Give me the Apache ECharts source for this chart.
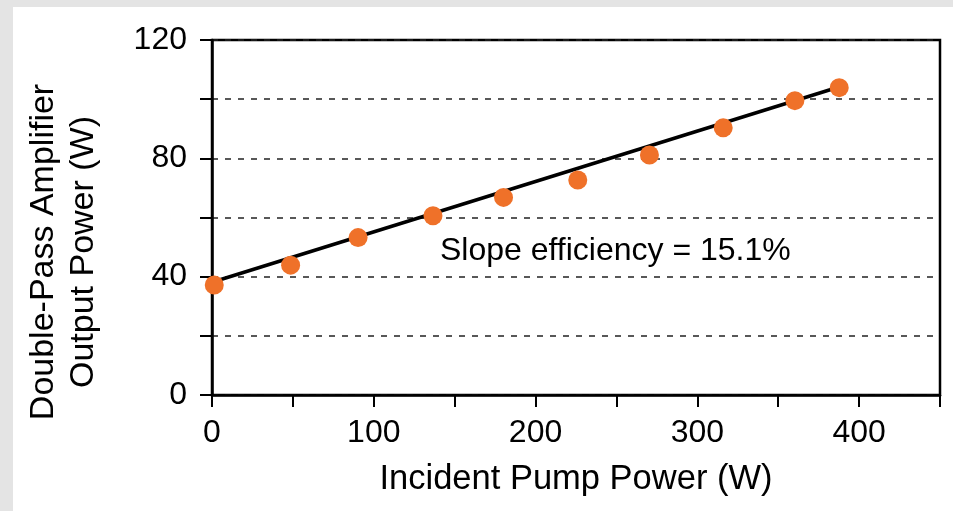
<!DOCTYPE html>
<html>
<head>
<meta charset="utf-8">
<script src="https://cdn.jsdelivr.net/npm/echarts@6/dist/echarts.min.js"></script>
<style>
  html, body { margin: 0; padding: 0; background: #e4e4e4; }
  #chart { width: 953px; height: 511px; }
</style>
</head>
<body>
<div id="chart"></div>
<script>
// measured points: incident pump power (W) vs output power (W)
var pumpPower = [1.4, 48.6, 90.3, 136.6, 180.2, 226.1, 270.4, 316.0, 360.3, 387.7];
var outputPower = [37.2, 43.9, 53.2, 60.6, 66.8, 72.7, 81.1, 90.3, 99.5, 103.9];

// linear fit end points
var fitX = [0.5, 388];
var fitY = [38.2, 104.2];

var xTickLabels = [0, 100, 200, 300, 400];
var yTickLabels = [0, 40, 80, 120];

var annotation = 'Slope efficiency = 15.1%';

(function () {
  'use strict';

  var FONT = '"Liberation Sans", Arial, Helvetica, sans-serif';
  var ORANGE = '#ef7129';
  var INK = '#000';

  var chart = echarts.init(document.getElementById('chart'), null, { renderer: 'canvas' });

  function zip(a, b) {
    return a.map(function (v, i) { return [v, b[i]]; });
  }

  // only a few ticks get a label
  function onlyListed(list) {
    return function (v) { return list.indexOf(v) !== -1 ? String(v) : ''; };
  }

  var option = {
    animation: false,
    backgroundColor: 'transparent',
    textStyle: { fontFamily: FONT },
    grid: {
      left: 212, top: 40, right: 13, bottom: 116,
      show: true, borderColor: INK, borderWidth: 2.5, backgroundColor: 'transparent'
    },
    graphic: [
      // white panel on the grey page
      { type: 'rect', z: -10, silent: true, shape: { x: 13, y: 7, width: 940, height: 504 }, style: { fill: '#fff' } },
      {
        type: 'text', x: 440, y: 251, z: 10,
        style: { text: annotation, fontFamily: FONT, fontSize: 32, fill: INK, textAlign: 'left', textVerticalAlign: 'middle' }
      },
      {
        type: 'text', x: 64, y: 252, rotation: Math.PI / 2, z: 10,
        style: {
          text: 'Double-Pass Amplifier\nOutput Power (W)',
          fontFamily: FONT, fontSize: 34, lineHeight: 40, fill: INK,
          textAlign: 'center', textVerticalAlign: 'middle'
        }
      }
    ],
    xAxis: {
      type: 'value', min: 0, max: 450, interval: 50,
      name: 'Incident Pump Power (W)', nameLocation: 'middle', nameGap: 67,
      nameTextStyle: { color: INK, fontSize: 34.5, fontFamily: FONT },
      axisLine: { show: true, lineStyle: { color: INK, width: 2.5 } },
      axisTick: { show: true, inside: false, length: 12, lineStyle: { color: INK, width: 2 } },
      axisLabel: { color: INK, fontSize: 32, fontFamily: FONT, margin: 22, formatter: onlyListed(xTickLabels) },
      splitLine: { show: false }
    },
    yAxis: {
      type: 'value', min: 0, max: 120, interval: 20,
      axisLine: { show: true, lineStyle: { color: INK, width: 2.5 } },
      axisTick: { show: true, inside: false, length: 12, lineStyle: { color: INK, width: 2 } },
      axisLabel: { color: INK, fontSize: 32, fontFamily: FONT, margin: 25, formatter: onlyListed(yTickLabels) },
      splitLine: { show: true, lineStyle: { color: '#222', width: 1.6, type: [6, 7] } }
    },
    series: [
      {
        name: 'fit', type: 'line', data: zip(fitX, fitY),
        symbol: 'none', lineStyle: { color: INK, width: 3.5 }, z: 3
      },
      {
        name: 'data', type: 'scatter', data: zip(pumpPower, outputPower),
        symbol: 'circle', symbolSize: 19, itemStyle: { color: ORANGE, opacity: 1 }, z: 4
      }
    ]
  };

  chart.setOption(option);
})();
</script>
</body>
</html>
